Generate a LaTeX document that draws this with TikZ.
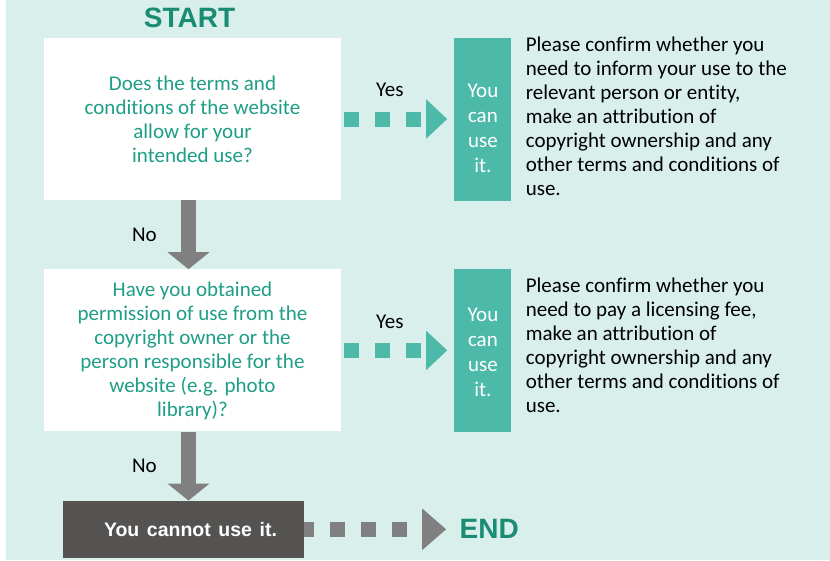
\documentclass[tikz,border=0pt]{standalone}
\usepackage{fontspec}
\setmainfont{Carlito}[Ligatures=NoCommon]
\newfontfamily\headfont{Liberation Sans}
\newfontfamily\stopfont{Liberation Sans}[WordSpace=1.4]
\usetikzlibrary{arrows.meta, positioning}

\definecolor{bgmint}{HTML}{D9EFEC}
\definecolor{boxteal}{HTML}{4DB9A8}
\definecolor{qgreen}{HTML}{1F9E86}
\definecolor{headgreen}{HTML}{1A8C74}
\definecolor{arrowgray}{HTML}{808080}
\definecolor{darkgray}{HTML}{555352}

\begin{document}
\begin{tikzpicture}[x=1pt, y=-1pt,
    question/.style={rectangle, fill=white, minimum width=297pt, minimum height=162pt, text=qgreen, align=center, font=\fontsize{21}{24}\selectfont},
    canuse/.style={rectangle, fill=boxteal, minimum width=57pt, minimum height=163pt, inner sep=0pt},
    usetext/.style={text=white, align=center, inner sep=0pt, font=\fontsize{21}{25}\selectfont},
    note/.style={inner sep=0pt, align=left, font=\fontsize{21}{24}\selectfont},
    answer/.style={font=\fontsize{21}{24}\selectfont},
    stopbox/.style={rectangle, fill=darkgray, minimum width=241pt, minimum height=57pt, text=white, font=\stopfont\bfseries\fontsize{19.5}{22}\selectfont},
    title/.style={text=headgreen, font=\headfont\bfseries\fontsize{28}{30}\selectfont},
    downarrow/.style={draw=arrowgray, line width=15pt, -{Triangle[length=17pt, width=41pt]}},
    yesarrow/.style={draw=boxteal, line width=15pt, dash pattern=on 15pt off 16pt, -{Triangle[length=21pt, width=38pt]}},
    endarrow/.style={draw=arrowgray, line width=15pt, dash pattern=on 15pt off 16pt, dash phase=5pt, -{Triangle[length=24pt, width=40pt]}}
]
    % background
    \fill[white] (0,0) rectangle (830,560);
    \fill[bgmint] (6,0) rectangle (830,560);

    \node[question] (q1) at (192.5,119) {Does the terms and\\conditions of the website\\allow for your\\intended use?};
    \node[title, above=6pt of q1, xshift=-3pt] (start) {START};
    \node[canuse, right=113pt of q1] (u1) {};
    \node[usetext] (t1) at ([yshift=-9pt]u1.center) {You\\can\\use\\it.};
    \node[note, right=14pt of u1, yshift=3pt] (n1) {Please confirm whether you\\need to inform your use to the\\relevant person or entity,\\make an attribution of\\copyright ownership and any\\other terms and conditions of\\use.};

    \node[question, below=69pt of q1] (q2) {Have you obtained\\permission of use from the\\copyright owner or the\\person responsible for the\\website (e.g. photo\\library)?};
    \node[canuse, right=113pt of q2] (u2) {};
    \node[usetext] (t2) at ([yshift=-2pt]u2.center) {You\\can\\use\\it.};
    \node[note, right=14pt of u2, yshift=5pt] (n2) {Please confirm whether you\\need to pay a licensing fee,\\make an attribution of\\copyright ownership and any\\other terms and conditions of\\use.};

    \node[stopbox, below=69pt of q2, xshift=-9pt] (no) {\hspace*{14pt}You cannot use it.};
    \node[title, right=152pt of no] (end) {END};

    % connectors
    \draw[downarrow] ([xshift=-4pt]q1.south) -- node[answer, left=21pt] {No} ([xshift=-4pt]q2.north);
    \draw[downarrow] ([xshift=-4pt]q2.south) -- node[answer, left=21pt] {No} ([xshift=5pt]no.north);
    \draw[yesarrow, shorten <=3pt, shorten >=7pt] (q1) -- node[answer, pos=0.43, above=12pt] {Yes} (u1);
    \draw[yesarrow, shorten <=3pt, shorten >=7pt] (q2) -- node[answer, pos=0.43, above=11pt] {Yes} (u2);
    \draw[endarrow, shorten >=10pt] (no) -- (end);
\end{tikzpicture}
\end{document}
